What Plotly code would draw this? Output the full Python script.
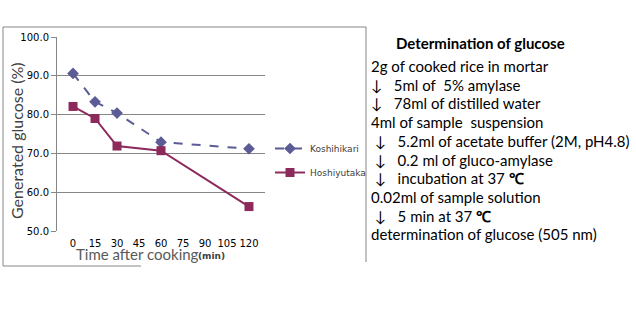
import plotly.graph_objects as go

times = ["0", "15", "30", "45", "60", "75", "90", "105", "120"]
koshihikari = [90.6, 83.3, 80.4, None, 72.9, None, None, None, 71.2]
hoshiyutaka = [82.1, 79.0, 71.9, None, 70.7, None, None, None, 56.3]

y_title = "Generated glucose (%)"
x_title = "Time after cooking"
x_unit = "(min)"
box_title = "Determination of glucose"
box_lines = [
    "2g of cooked rice in mortar",
    "\u2193\u00a0\u00a0 5ml of\u00a0 5% amylase",
    "\u2193\u00a0\u00a0 78ml of distilled water",
    "4ml of sample\u00a0 suspension",
    "\u00a0\u2193\u00a0\u00a0 5.2ml of acetate buffer (2M, pH4.8)",
    "\u00a0\u2193\u00a0\u00a0 0.2 ml of gluco-amylase",
    "\u00a0\u2193\u00a0\u00a0 incubation at 37 <b>\u2103</b>",
    "0.02ml of sample solution",
    "\u00a0\u2193\u00a0\u00a0 5 min at 37 <b>\u2103</b>",
    "determination of glucose (505 nm)",
]

W, H = 636, 324
L, R, T, B = 57, 265, 37, 231


def px(x):
    return (x - L) / (R - L)


def py(y):
    return (B - y) / (B - T)


GRID = "#868686"
BLUE = "#5b5b96"
MAROON = "#8c2a5c"

fig = go.Figure()
fig.add_trace(go.Scatter(
    x=times, y=koshihikari, name="Koshihikari", mode="lines+markers",
    connectgaps=True, legendgroup="a",
    line=dict(color=BLUE, width=2, dash="dash"),
    marker=dict(symbol="diamond", size=9, color=BLUE),
))
fig.add_trace(go.Scatter(
    x=times, y=hoshiyutaka, name="Hoshiyutaka", mode="lines+markers",
    connectgaps=True, legendgroup="b",
    line=dict(color=MAROON, width=2),
    marker=dict(symbol="square", size=9, color=MAROON),
))

shapes = [
    dict(type="line", xref="paper", yref="paper", x0=px(3), x1=px(366), y0=py(27), y1=py(27),
         line=dict(color=GRID, width=1)),
    dict(type="line", xref="paper", yref="paper", x0=px(3), x1=px(3), y0=py(27), y1=py(266),
         line=dict(color=GRID, width=1)),
    dict(type="line", xref="paper", yref="paper", x0=px(366), x1=px(366), y0=py(27), y1=py(262),
         line=dict(color=GRID, width=1)),
    dict(type="line", xref="paper", yref="paper", x0=px(3), x1=px(141), y0=py(266), y1=py(266),
         line=dict(color=GRID, width=1)),
]

annotations = [
    dict(text=y_title, xref="paper", yref="paper", x=px(16), y=py(141), textangle=-90,
         showarrow=False, xanchor="center", yanchor="middle",
         font=dict(family="Lato", size=16, color="#404040")),
    dict(text=x_title, xref="paper", yref="paper", x=px(74), y=py(254),
         showarrow=False, xanchor="left", yanchor="middle",
         font=dict(family="Lato", size=15, color="#595959")),
    dict(text="<b>" + x_unit + "</b>", xref="paper", yref="paper", x=px(196), y=py(256),
         showarrow=False, xanchor="left", yanchor="middle",
         font=dict(family="DejaVu Sans", size=9, color="#404040")),
    dict(text="<b>" + box_title + "</b>", xref="paper", yref="paper", x=px(394), y=py(43),
         showarrow=False, xanchor="left", yanchor="middle",
         font=dict(family="Lato", size=15, color="#000000")),
]
for i, txt in enumerate(box_lines):
    annotations.append(dict(
        text=txt, xref="paper", yref="paper", x=px(369), y=py(66 + i * 18.7),
        showarrow=False, xanchor="left", yanchor="middle",
        font=dict(family="Lato", size=15, color="#000000")))

fig.update_layout(
    width=W, height=H,
    margin=dict(l=L, r=W - R, t=T, b=H - B),
    paper_bgcolor="white", plot_bgcolor="white",
    showlegend=True,
    legend=dict(x=px(270), y=py(134), xanchor="left", yanchor="top",
                font=dict(family="DejaVu Sans", size=9, color="#404040"),
                bgcolor="rgba(0,0,0,0)", tracegroupgap=5, traceorder="grouped",
                itemwidth=30),
    shapes=shapes,
    annotations=annotations,
    xaxis=dict(type="category", showgrid=False, showline=False, ticks="",
               zeroline=False, ticklabelstandoff=5,
               tickfont=dict(family="DejaVu Sans", size=10, color="#000000")),
    yaxis=dict(range=[50, 100], dtick=10, tickformat=".1f", showgrid=True,
               gridcolor=GRID, gridwidth=1, showline=True, linecolor=GRID,
               ticks="outside", ticklen=5, tickcolor=GRID, zeroline=False,
               tickfont=dict(family="DejaVu Sans", size=10, color="#000000")),
)

fig.write_html("out.html")
